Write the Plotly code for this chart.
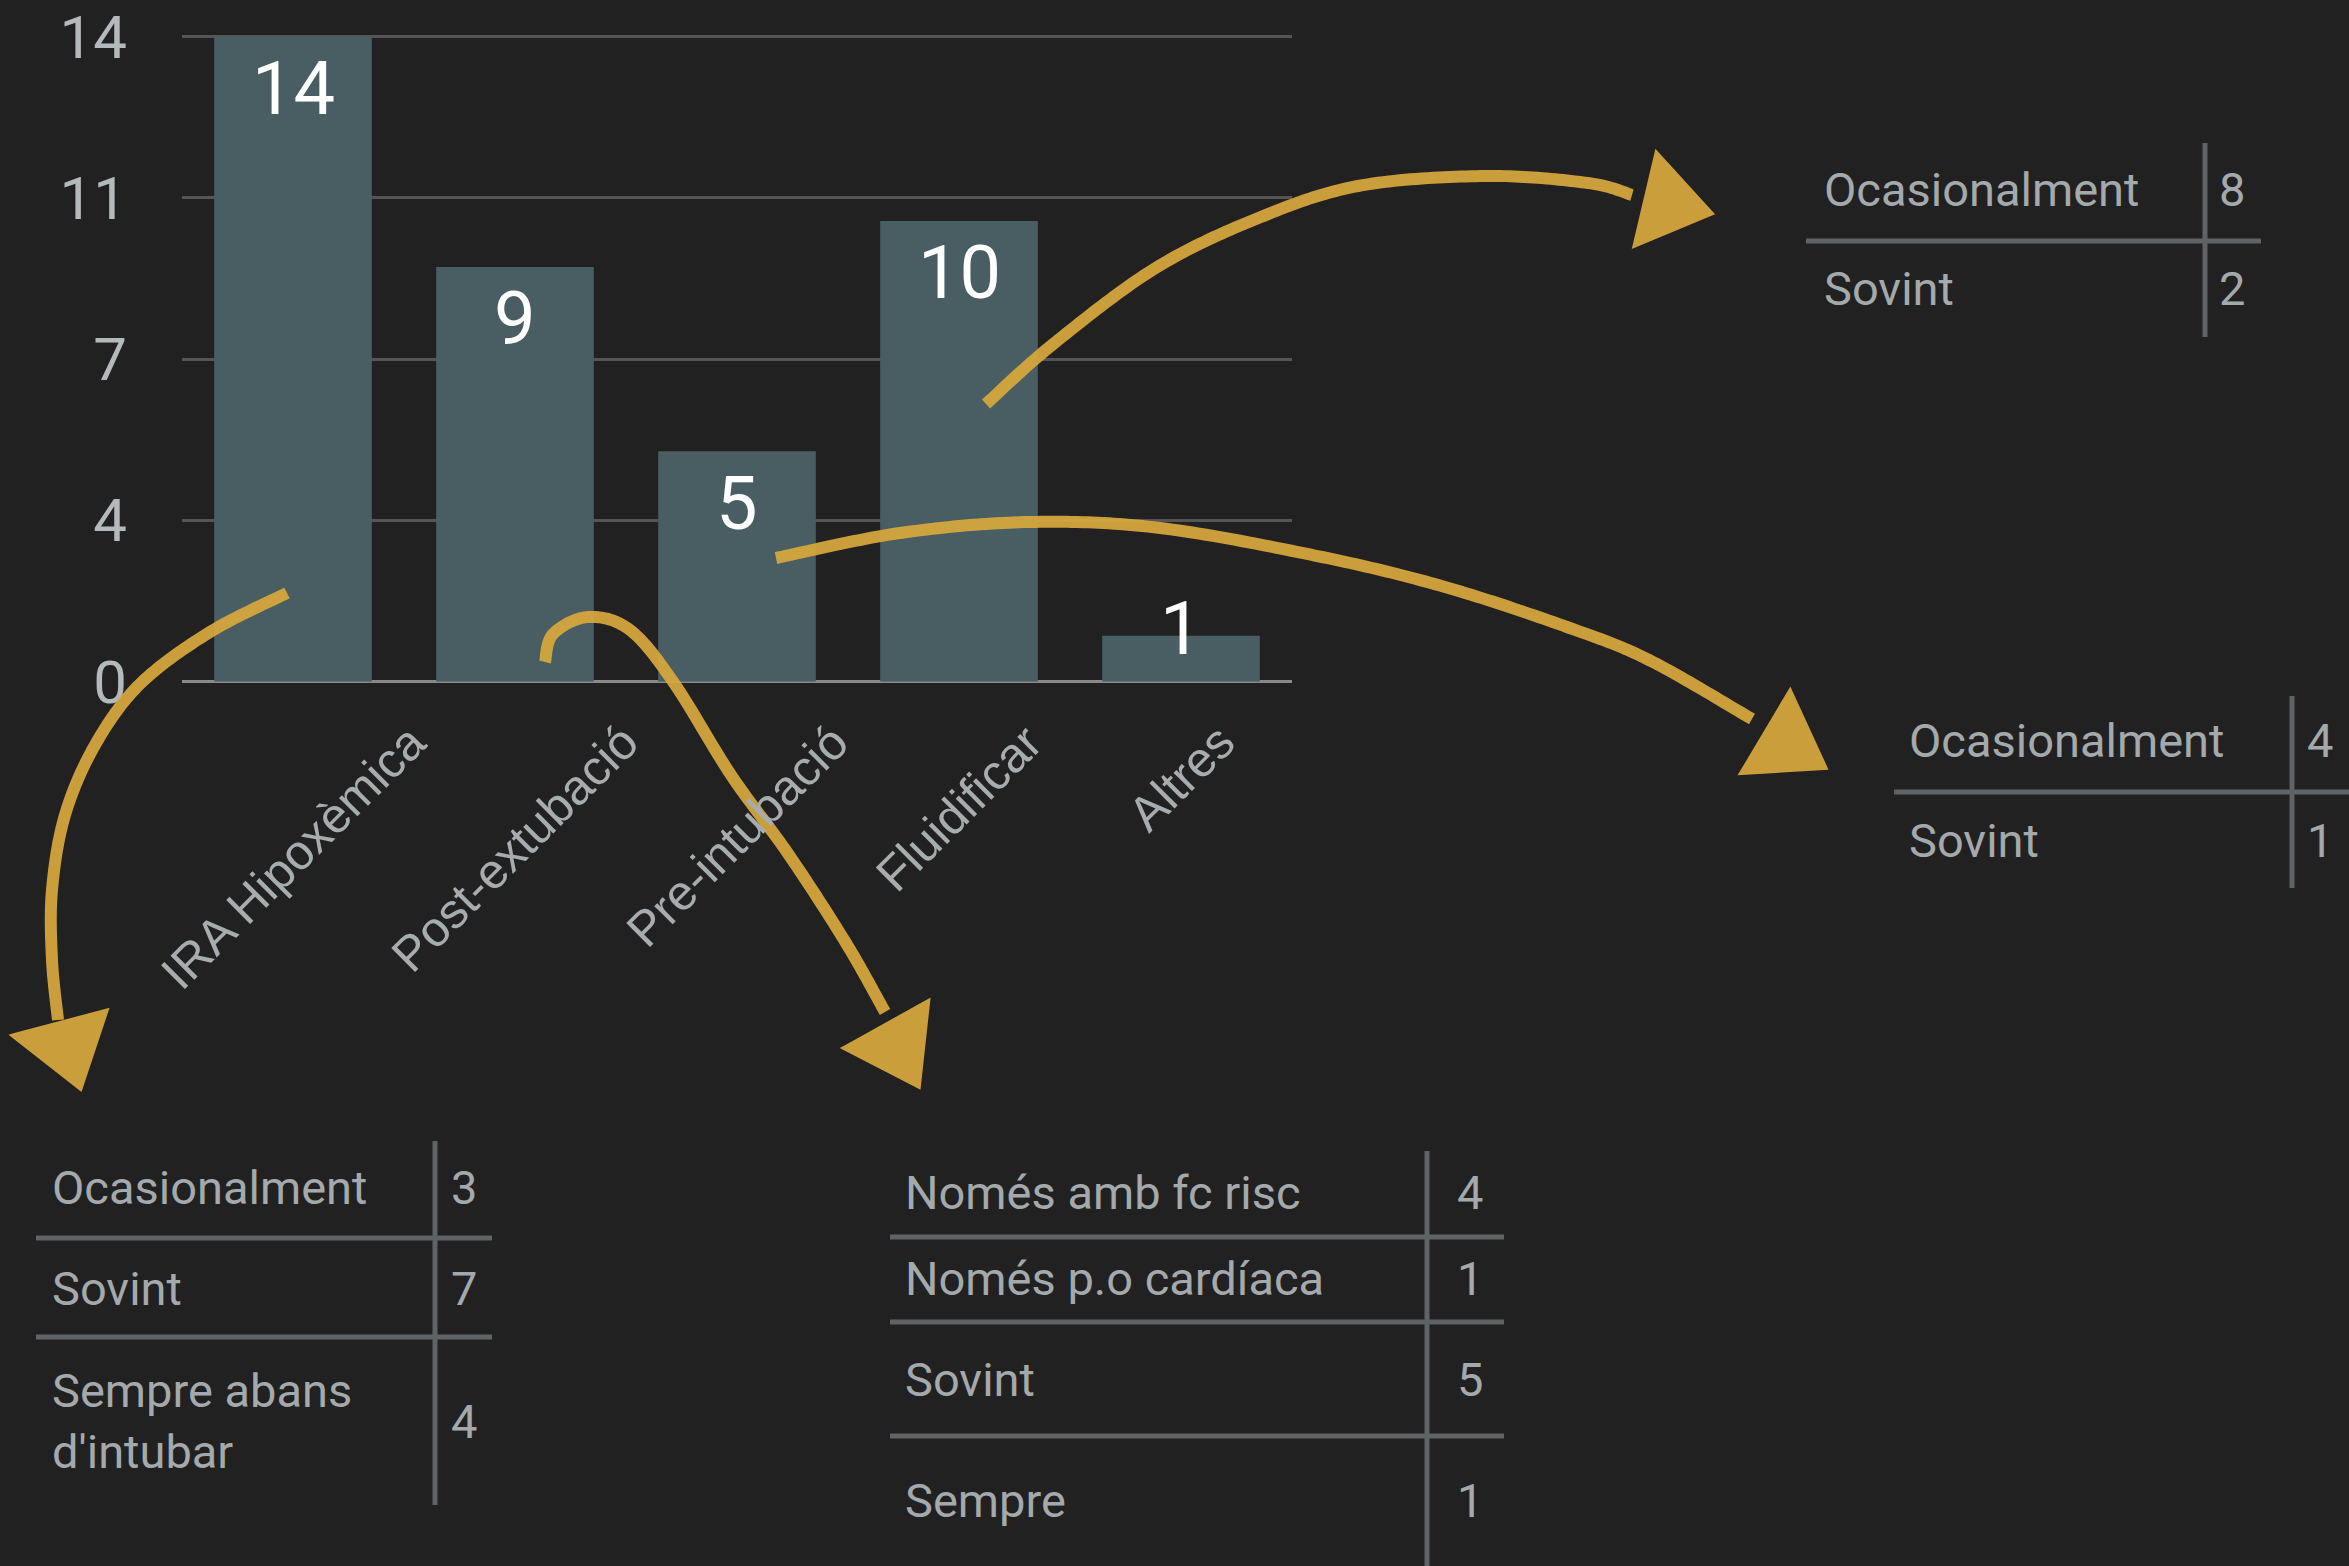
import plotly.graph_objects as go

W, H = 2349, 1566

# ---------------- data ----------------
categories = ["IRA Hipoxèmica", "Post-extubació", "Pre-intubació", "Fluidificar", "Altres"]
counts = [14, 9, 5, 10, 1]
ytick_vals = [0, 3.5, 7, 10.5, 14]
ytick_text = ["0", "4", "7", "11", "14"]

fluid_labels = ["Ocasionalment", "Sovint"]
fluid_values = [8, 2]
pre_labels = ["Ocasionalment", "Sovint"]
pre_values = [4, 1]
ira_labels = ["Ocasionalment", "Sovint", "Sempre abans<br>d'intubar"]
ira_values = [3, 7, 4]
post_labels = ["Només amb fc risc", "Només p.o cardíaca", "Sovint", "Sempre"]
post_values = [4, 1, 5, 1]

# ---------------- style ----------------
BG = "#212121"
BAR = "#485e62"
GRID = "#555555"
ZERO = "#8a8a8a"
TICK = "#b4b9bb"
TXT = "#a4a9ab"
LINE = "#5f6366"
CHALK = "#d9a93d"
NUM_FONT = "Roboto, 'Open Sans', sans-serif"
LAB_FONT = "'Liberation Sans', Arial, sans-serif"


def P(x, y):
    return x / W, 1 - y / H


plot_x0, plot_x1 = 182, 1292
y_zero_px, y_14_px = 681.7, 36.6
px_per_unit = (y_zero_px - y_14_px) / 14.0
Y_TOP = 14.05  # a hair above 14 so the top gridline is drawn
y_top_px = y_zero_px - Y_TOP * px_per_unit

fig = go.Figure()
fig.add_trace(go.Bar(
    x=categories, y=counts, marker=dict(color=BAR, line=dict(width=0)),
    hoverinfo="skip", showlegend=False,
))

annotations = []
# value labels inside the bars
for c, v in zip(categories, counts):
    yc = max(v - 52 / px_per_unit, 53 / px_per_unit)
    annotations.append(dict(
        x=c, y=yc, xref="x", yref="y", text=str(v), showarrow=False,
        xanchor="center", yanchor="middle",
        font=dict(family=NUM_FONT, size=74, color="#ffffff"),
    ))
# rotated category labels, centred under each bar
for c in categories:
    annotations.append(dict(
        x=c, y=P(0, 712)[1], xref="x", yref="paper", text=c, showarrow=False,
        xanchor="center", yanchor="top", textangle=-45,
        font=dict(family=LAB_FONT, size=49, color="#a7acaf"),
    ))

shapes = []


def add_table(labels, values, text_x, value_x, vline_x, vy0, vy1, hx0, hx1, rows, seps):
    for lab, val, ry in zip(labels, values, rows):
        annotations.append(dict(
            x=P(text_x, 0)[0], y=P(0, ry)[1], xref="paper", yref="paper",
            text=lab, showarrow=False, xanchor="left", yanchor="middle", align="left",
            font=dict(family=NUM_FONT, size=47, color=TXT),
        ))
        annotations.append(dict(
            x=P(value_x, 0)[0], y=P(0, ry)[1], xref="paper", yref="paper",
            text=str(val), showarrow=False, xanchor="left", yanchor="middle",
            font=dict(family=NUM_FONT, size=47, color=TXT),
        ))
    x0, y0 = P(vline_x, vy0)
    x1, y1 = P(vline_x, vy1)
    shapes.append(dict(type="line", xref="paper", yref="paper", x0=x0, y0=y0, x1=x1, y1=y1,
                       line=dict(color=LINE, width=5)))
    for sy in seps:
        a0, b0 = P(hx0, sy)
        a1, b1 = P(hx1, sy)
        shapes.append(dict(type="line", xref="paper", yref="paper", x0=a0, y0=b0, x1=a1, y1=b1,
                           line=dict(color=LINE, width=5)))


add_table(fluid_labels, fluid_values, 1822, 2217, 2205, 143, 337, 1806, 2261, [190, 288], [241])
add_table(pre_labels, pre_values, 1907, 2305, 2292, 696, 888, 1894, 2349, [740, 840], [792])
add_table(ira_labels, ira_values, 50, 449, 435, 1141, 1505, 36, 492, [1187, 1288, 1421], [1238, 1337])
add_table(post_labels, post_values, 903, 1455, 1427, 1151, 1566, 890, 1504, [1192, 1278, 1379, 1500],
          [1237, 1322, 1436])


# ---------------- chalk arrows (decoration) ----------------
def smooth_path(pts, steps=24):
    """Catmull-Rom spline through pts, sampled densely as a polyline."""
    n = len(pts)
    samples = [pts[0]]
    for i in range(n - 1):
        p0 = pts[i - 1] if i > 0 else pts[i]
        p1 = pts[i]
        p2 = pts[i + 1]
        p3 = pts[i + 2] if i + 2 < n else pts[i + 1]
        for k in range(1, steps + 1):
            t = k / steps
            t2, t3 = t * t, t * t * t
            x = 0.5 * ((2 * p1[0]) + (-p0[0] + p2[0]) * t + (2 * p0[0] - 5 * p1[0] + 4 * p2[0] - p3[0]) * t2
                       + (-p0[0] + 3 * p1[0] - 3 * p2[0] + p3[0]) * t3)
            y = 0.5 * ((2 * p1[1]) + (-p0[1] + p2[1]) * t + (2 * p0[1] - 5 * p1[1] + 4 * p2[1] - p3[1]) * t2
                       + (-p0[1] + 3 * p1[1] - 3 * p2[1] + p3[1]) * t3)
            samples.append((x, y))
    s = "M %.6f,%.6f" % P(*samples[0])
    for p in samples[1:]:
        s += " L %.6f,%.6f" % P(*p)
    return s


def tri_path(pts):
    s = "M %.5f,%.5f" % P(*pts[0])
    for p in pts[1:]:
        s += " L %.5f,%.5f" % P(*p)
    return s + " Z"


arrows = [
    # Fluidificar -> top right table
    ([(986, 404), (1052, 345), (1154, 269), (1256, 219), (1358, 186), (1486, 176), (1588, 183),
      (1632, 195)],
     [(1657, 155), (1710, 213), (1636, 244)]),
    # Pre-intubació -> right table
    ([(776, 558), (900, 533), (1030, 522), (1160, 528), (1322, 557), (1445, 587), (1567, 627),
      (1649, 660), (1752, 719)],
     [(1790, 693), (1824, 767), (1743, 772)]),
    # IRA -> bottom left table
    ([(287, 593), (210, 632), (140, 684), (95, 745), (65, 815), (52, 890), (52, 960), (58, 1020)],
     [(15, 1036), (105, 1012), (80, 1087)]),
    # Post-extubació -> bottom middle table
    ([(545, 662), (553, 634), (588, 617), (630, 630), (674, 683), (731, 775), (789, 855), (846, 943),
      (885, 1012)],
     [(846, 1048), (927, 1003), (918, 1085)]),
]

for body, head in arrows:
    shapes.append(dict(type="path", xref="paper", yref="paper", path=smooth_path(body),
                       line=dict(color=CHALK, width=12), opacity=0.92, layer="above"))
    shapes.append(dict(type="path", xref="paper", yref="paper", path=tri_path(head),
                       fillcolor=CHALK, line=dict(color=CHALK, width=6), opacity=0.92, layer="above"))

fig.update_layout(
    width=W, height=H,
    margin=dict(l=0, r=0, t=0, b=0, pad=0, autoexpand=False),
    paper_bgcolor=BG, plot_bgcolor=BG,
    bargap=0.29,
    showlegend=False,
    xaxis=dict(domain=[plot_x0 / W, plot_x1 / W], range=[-0.5, 4.5], showticklabels=False,
               showgrid=False, automargin=False,
               zeroline=False, showline=False, ticks="", fixedrange=True),
    yaxis=dict(domain=[1 - y_zero_px / H, 1 - y_top_px / H], range=[0, Y_TOP], automargin=False,
               tickvals=ytick_vals, ticktext=ytick_text, showgrid=True,
               gridcolor=GRID, gridwidth=2.5, zeroline=True, zerolinecolor=ZERO, zerolinewidth=3,
               showline=False, ticks="", ticklabelstandoff=54,
               tickfont=dict(family=NUM_FONT, size=60, color=TICK), fixedrange=True),
    annotations=annotations,
    shapes=shapes,
)

fig.write_html("out.html", config={"displayModeBar": False},
               post_script="document.body.style.margin='0';document.body.style.overflow='hidden';")
